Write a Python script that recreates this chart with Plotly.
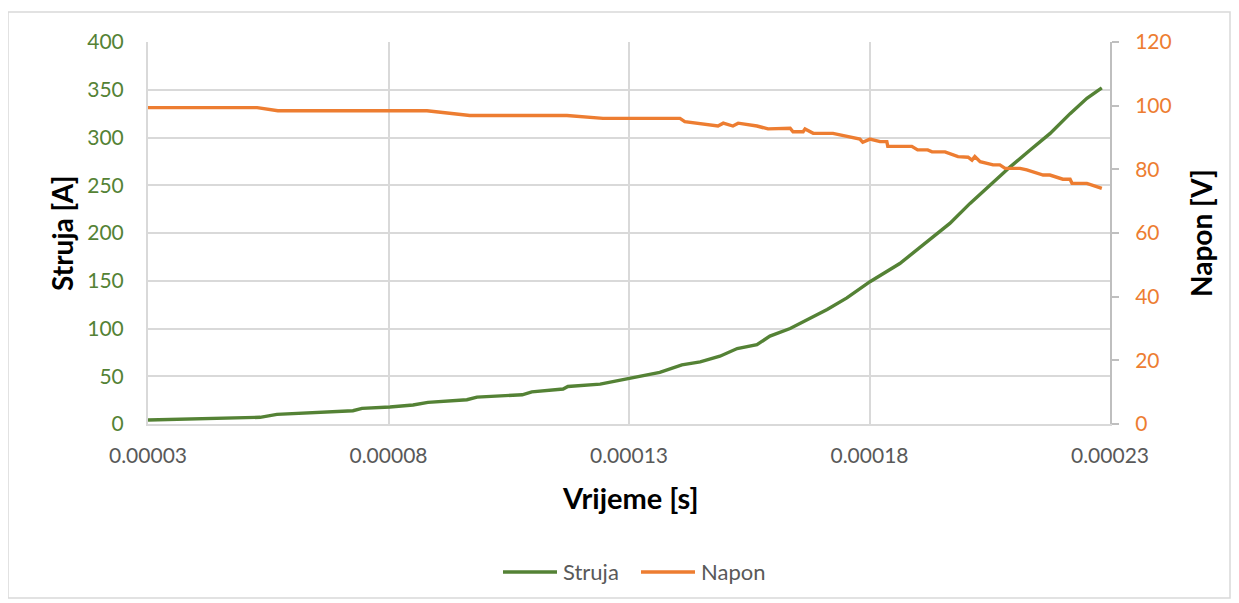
import plotly.graph_objects as go

# Struja (current) series: time in microseconds, current in A
struja_t_us = [30.0, 53.3, 56.8, 72.6, 74.5, 80.3, 85.1, 88.2, 96.3, 98.4, 107.8, 109.8,
               116.3, 117.3, 124.0, 130.2, 136.4, 141.0, 144.8, 148.9, 152.5, 156.6,
               159.3, 163.5, 166.2, 171.2, 175.3, 180.1, 186.3, 192.0, 196.7, 200.9,
               205.0, 209.2, 213.4, 217.5, 221.7, 225.2, 228.3]
struja_a = [4.2, 7.0, 10.1, 13.9, 16.4, 17.8, 19.9, 22.6, 25.4, 28.2, 30.6, 33.7,
            36.6, 39.3, 41.8, 48, 54, 62, 65, 71, 79, 83,
            92, 100, 107, 120, 132, 149, 168, 191, 210, 231,
            250, 269, 287, 304, 325, 341, 352]

# Napon (voltage) series: time in microseconds, voltage in V
napon_t_us = [30.0, 52.7, 57.0, 88.0, 96.9, 117.1, 124.6, 140.6, 141.6, 148.5, 149.6,
              151.6, 152.7, 156.6, 158.9, 163.5, 164.1, 166.2, 166.6, 168.3, 172.4,
              176.6, 178.0, 178.6, 180.1, 182.2, 183.6, 183.8, 188.8, 190.0, 192.1,
              193.0, 195.7, 198.4, 200.5, 201.3, 201.9, 203.0, 205.7, 207.1, 208.2,
              211.3, 212.7, 216.1, 217.5, 220.2, 221.7, 222.1, 225.2, 228.3]
napon_v = [99.4, 99.4, 98.4, 98.4, 96.9, 96.9, 96.0, 96.0, 95.0, 93.6, 94.5,
           93.6, 94.5, 93.6, 92.7, 92.9, 91.8, 91.8, 92.7, 91.3, 91.3,
           89.8, 89.5, 88.5, 89.5, 88.7, 88.7, 87.2, 87.2, 86.1, 86.1,
           85.5, 85.5, 84.0, 83.8, 82.9, 84.0, 82.4, 81.4, 81.4, 80.3,
           80.3, 79.8, 78.2, 78.2, 76.9, 76.9, 75.6, 75.6, 74.0]

x_ticks = [0.00003, 0.00008, 0.00013, 0.00018, 0.00023]
x_tick_labels = ["0.00003", "0.00008", "0.00013", "0.00018", "0.00023"]
series_names = ["Struja", "Napon"]

struja_t = [t * 1e-6 for t in struja_t_us]
napon_t = [t * 1e-6 for t in napon_t_us]

GREEN = "#548235"
ORANGE = "#ED7D31"
GRID = "#D9D9D9"
FONT = "Lato"

# the page has an 8px body margin, so figure coords = page coords - 8
OFF = 8
W, H = 1239 - OFF, 603 - OFF
pl, pr, pt, pb = 148 - OFF, 1110 - OFF, 42 - OFF, 424 - OFF


def px_x(page_x):
    return (page_x - OFF - pl) / (pr - pl)


def px_y(page_y):
    return (pb - (page_y - OFF)) / (pb - pt)


fig = go.Figure()
fig.add_trace(go.Scatter(x=struja_t, y=struja_a, name=series_names[0], mode="lines",
                         line=dict(color=GREEN, width=3.4), yaxis="y", showlegend=False))
fig.add_trace(go.Scatter(x=napon_t, y=napon_v, name=series_names[1], mode="lines",
                         line=dict(color=ORANGE, width=3.4), yaxis="y2", showlegend=False))

annotations = [
    dict(text="<b>Struja [A]</b>", x=px_x(62), y=px_y(233), xref="paper", yref="paper",
         xanchor="center", yanchor="middle",
         showarrow=False, textangle=-90, font=dict(size=28, color="black", family=FONT)),
    dict(text="<b>Napon [V]</b>", x=px_x(1201), y=px_y(233), xref="paper", yref="paper",
         xanchor="center", yanchor="middle",
         showarrow=False, textangle=-90, font=dict(size=28, color="black", family=FONT)),
    dict(text="<b>Vrijeme [s]</b>", x=px_x(630), y=px_y(497), xref="paper", yref="paper",
         xanchor="center", yanchor="middle",
         showarrow=False, font=dict(size=29, color="black", family=FONT)),
]

shapes = [
    # outer chart border
    dict(type="rect", xref="paper", yref="paper",
         x0=px_x(8), x1=px_x(1230), y0=px_y(598), y1=px_y(12),
         line=dict(color=GRID, width=1.5), fillcolor="rgba(0,0,0,0)", layer="below"),
]

# legend drawn as line samples + labels (Excel-style long samples)
legend_items = [(series_names[0], GREEN, 503, 557, 561), (series_names[1], ORANGE, 641, 695, 699)]
for name, col, lx0, lx1, tx in legend_items:
    shapes.append(dict(type="line", xref="paper", yref="paper",
                       x0=px_x(lx0), x1=px_x(lx1), y0=px_y(572), y1=px_y(572),
                       line=dict(color=col, width=3.4)))
    annotations.append(dict(text=name, x=px_x(tx), y=px_y(571), xref="paper", yref="paper",
                            xanchor="left", yanchor="middle", showarrow=False,
                            font=dict(size=22, color="#595959", family=FONT)))

fig.update_layout(
    width=W, height=H,
    margin=dict(l=pl, r=W - pr, t=pt, b=H - pb),
    paper_bgcolor="white", plot_bgcolor="white",
    font=dict(family=FONT, size=21, color="#595959"),
    showlegend=False,
    xaxis=dict(range=[0.00003, 0.00023], tickvals=x_ticks, ticktext=x_tick_labels,
               showgrid=True, gridcolor=GRID, gridwidth=1.5,
               showline=True, linecolor=GRID, linewidth=2,
               ticks="", ticklabelstandoff=12,
               tickfont=dict(size=21, color="#595959"), zeroline=False),
    yaxis=dict(range=[0, 400], dtick=50, showgrid=True, gridcolor=GRID, gridwidth=1.5,
               showline=True, linecolor=GRID, linewidth=2, ticks="",
               ticklabelstandoff=18, tickfont=dict(size=21, color=GREEN), zeroline=False),
    yaxis2=dict(range=[0, 120], dtick=20, overlaying="y", side="right", showgrid=False,
                showline=True, linecolor="#BFBFBF", linewidth=2,
                ticks="outside", ticklen=7, tickcolor="#BFBFBF", tickwidth=1.5,
                ticklabelstandoff=12, tickfont=dict(size=21, color=ORANGE), zeroline=False),
    annotations=annotations,
    shapes=shapes,
)

fig.write_html("out.html")
